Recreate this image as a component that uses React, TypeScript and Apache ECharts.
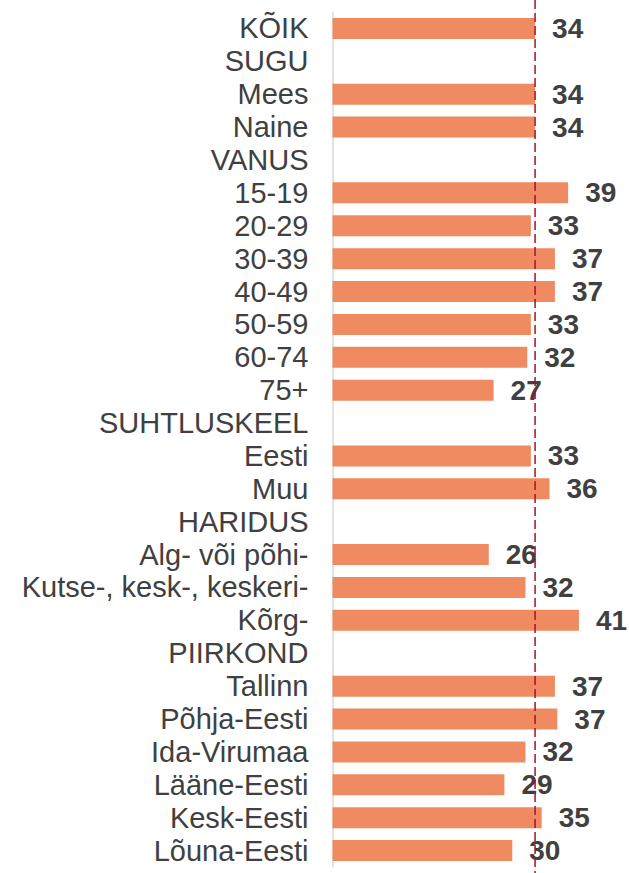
import React, { useEffect, useRef } from "react";
import * as echarts from "echarts";

const categories = [
  "KÕIK", "SUGU", "Mees", "Naine", "VANUS", "15-19", "20-29", "30-39", "40-49",
  "50-59", "60-74", "75+", "SUHTLUSKEEL", "Eesti", "Muu", "HARIDUS",
  "Alg- või põhi-", "Kutse-, kesk-, keskeri-", "Kõrg-", "PIIRKOND", "Tallinn",
  "Põhja-Eesti", "Ida-Virumaa", "Lääne-Eesti", "Kesk-Eesti", "Lõuna-Eesti",
];

const values: (number | null)[] = [
  33.7, null, 33.7, 33.7, null, 39.2, 33.0, 37.0, 37.0, 33.0, 32.4, 26.8, null,
  33.0, 36.1, null, 26.0, 32.1, 41.0, null, 37.0, 37.4, 32.1, 28.6, 34.8, 29.9,
];

const averageValue = 33.7;
const axisMin = 0;
const axisMax = 45;

export default function App() {
  const ref = useRef<HTMLDivElement>(null);
  useEffect(() => {
    if (!ref.current) return;
    const chart = echarts.init(ref.current, null, { renderer: "svg" });
    const font = "'Liberation Sans', Arial, Helvetica, sans-serif";
    chart.setOption({
      animation: false,
      grid: { left: 332.5, right: 26, top: 12, bottom: 6, containLabel: false },
      xAxis: {
        type: "value",
        min: axisMin,
        max: axisMax,
        show: false,
        splitLine: { show: false },
      },
      yAxis: {
        type: "category",
        data: categories,
        inverse: true,
        axisLine: { show: true, lineStyle: { color: "#d9d9d9", width: 1.5 } },
        axisTick: { show: false },
        axisLabel: {
          margin: 24,
          fontSize: 29,
          fontFamily: font,
          color: "#404040",
          interval: 0,
        },
      },
      series: [
        {
          type: "bar",
          data: values.map((v) => (v === null ? "-" : v)),
          barWidth: 21,
          itemStyle: { color: "#F08B61" },
          label: {
            show: true,
            position: "right",
            distance: 17,
            fontSize: 28,
            fontWeight: "bold",
            fontFamily: font,
            color: "#404040",
            formatter: (p: any) => String(Math.round(p.value)),
          },
        },
      ],
    });
    const x = chart.convertToPixel({ gridIndex: 0 }, [averageValue, 0])[0];
    chart.setOption({
      graphic: [
        {
          type: "line",
          z: 100,
          shape: { x1: x, y1: 0, x2: x, y2: 873 },
          style: { stroke: "#A8102A", lineWidth: 1.5, lineDash: [9, 4] },
        },
      ],
    });
    return () => chart.dispose();
  }, []);
  return (
    <div
      ref={ref}
      style={{ position: "absolute", left: 0, top: 0, width: 629, height: 873 }}
    />
  );
}
